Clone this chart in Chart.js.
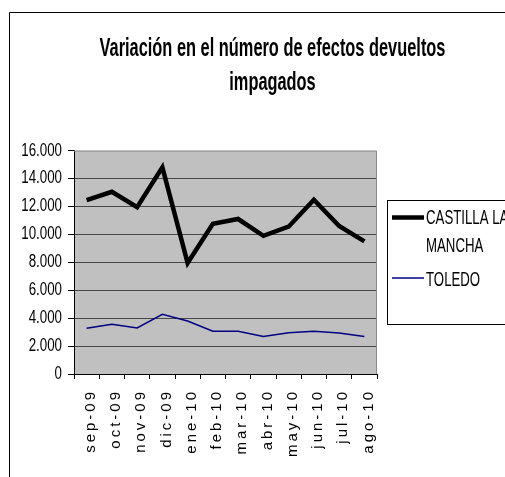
<!DOCTYPE html>
<html>
<head>
<meta charset="utf-8">
<script src="https://cdn.jsdelivr.net/npm/chart.js@4/dist/chart.umd.min.js"></script>
<style>
  html, body { margin: 0; padding: 0; background: #ffffff; }
  #wrap { position: relative; width: 505px; height: 477px; }
</style>
</head>
<body>
<div id="wrap"><canvas id="c"></canvas></div>
<script>
// ---- data ----
const months = ['sep-09','oct-09','nov-09','dic-09','ene-10','feb-10','mar-10','abr-10','may-10','jun-10','jul-10','ago-10'];
const castillaLaMancha = [12450, 13050, 11950, 14800, 7950, 10750, 11100, 9900, 10550, 12480, 10600, 9500];
const toledo = [3280, 3560, 3300, 4280, 3800, 3060, 3060, 2680, 2960, 3060, 2940, 2680];
const seriesNames = ['CASTILLA LA MANCHA', 'TOLEDO'];
const titleLines = ['Variación en el número de efectos devueltos', 'impagados'];
const yTicks = [0, 2000, 4000, 6000, 8000, 10000, 12000, 14000, 16000];

const FONT = "'Liberation Sans', Arial, sans-serif";

// The reference text is horizontally condensed: render text condensed via fillText maxWidth.
const TITLE_SQ = 0.63, YLABEL_SQ = 0.74, LEGEND_SQ = 0.63;
const origFillText = CanvasRenderingContext2D.prototype.fillText;
CanvasRenderingContext2D.prototype.fillText = function (t, x, y, mw) {
  let sq = this.__sq;
  if (sq === undefined) sq = /bold|700/.test(this.font) ? TITLE_SQ : 1;
  if (sq !== 1) {
    const w = this.measureText(t).width * sq;
    mw = (mw === undefined || mw === null) ? w : Math.min(mw, w);
  }
  if (mw === undefined || mw === null) return origFillText.call(this, t, x, y);
  return origFillText.call(this, t, x, y, mw);
};

class SpacedCategoryScale extends Chart.CategoryScale {
  drawLabels(area) {
    const ctx = this.ctx;
    ctx.save();
    ctx.letterSpacing = '3px';
    ctx.__sq = 1;
    super.drawLabels(area);
    ctx.__sq = undefined;
    ctx.restore();
  }
}
SpacedCategoryScale.id = 'spacedCategory';
SpacedCategoryScale.defaults = Chart.CategoryScale.defaults;

class CondensedLinearScale extends Chart.LinearScale {
  drawLabels(area) {
    const ctx = this.ctx;
    ctx.__sq = YLABEL_SQ;
    super.drawLabels(area);
    ctx.__sq = undefined;
  }
}
CondensedLinearScale.id = 'condensedLinear';
CondensedLinearScale.defaults = Chart.LinearScale.defaults;
Chart.register(SpacedCategoryScale, CondensedLinearScale);

function fmt(v) {
  return String(v).replace(/\B(?=(\d{3})+(?!\d))/g, '.');
}

const framePlugin = {
  id: 'framePlugin',
  beforeDraw(chart) {
    const ctx = chart.ctx, a = chart.chartArea;
    ctx.save();
    ctx.fillStyle = '#ffffff';
    ctx.fillRect(0, 0, chart.width, chart.height);
    ctx.fillStyle = '#c0c0c0';
    ctx.fillRect(a.left, a.top, a.right - a.left, a.bottom - a.top);
    ctx.restore();
  },
  beforeDatasetsDraw(chart) {
    const ctx = chart.ctx, a = chart.chartArea;
    ctx.save();
    ctx.strokeStyle = '#8a8a8a';
    ctx.lineWidth = 1;
    ctx.beginPath();
    ctx.moveTo(a.left, a.top + 0.5);
    ctx.lineTo(a.right - 0.5, a.top + 0.5);
    ctx.lineTo(a.right - 0.5, a.bottom);
    ctx.stroke();
    ctx.restore();
  },
  afterDraw(chart) {
    const ctx = chart.ctx;
    ctx.save();
    // outer chart frame
    ctx.strokeStyle = '#000000';
    ctx.lineWidth = 1;
    ctx.beginPath();
    ctx.moveTo(9.5, chart.height + 2);
    ctx.lineTo(9.5, 12.5);
    ctx.lineTo(chart.width + 2, 12.5);
    ctx.stroke();
    // legend box
    const bx = 387, by = 200, bw = 140, bh = 124;
    ctx.fillStyle = '#ffffff';
    ctx.fillRect(bx, by, bw, bh);
    ctx.strokeRect(bx + 0.5, by + 0.5, bw, bh);
    ctx.font = '21px ' + FONT;
    ctx.fillStyle = '#000000';
    ctx.textBaseline = 'alphabetic';
    ctx.textAlign = 'left';
    ctx.__sq = LEGEND_SQ;
    const rows = [{ lineY: 217.5, textY: 224 }, { lineY: 278, textY: 286 }];
    chart.data.datasets.forEach((ds, i) => {
      const r = rows[i];
      ctx.strokeStyle = ds.borderColor;
      ctx.lineWidth = ds.borderWidth;
      ctx.beginPath();
      ctx.moveTo(392, r.lineY);
      ctx.lineTo(424, r.lineY);
      ctx.stroke();
      const words = ds.label.split(' ');
      const lines = [];
      let cur = '';
      words.forEach(w => {
        const test = cur ? cur + ' ' + w : w;
        if (cur && ctx.measureText(test).width * LEGEND_SQ > 100) { lines.push(cur); cur = w; }
        else cur = test;
      });
      if (cur) lines.push(cur);
      lines.forEach((ln, k) => ctx.fillText(ln, 426, r.textY + k * 28));
    });
    ctx.__sq = undefined;
    ctx.restore();
  }
};

const chart = new Chart(document.getElementById('c'), {
  type: 'line',
  data: {
    labels: months,
    datasets: [
      {
        label: seriesNames[0],
        data: castillaLaMancha,
        borderColor: '#000000',
        backgroundColor: '#000000',
        borderWidth: 4.5,
        pointRadius: 0,
        tension: 0,
        fill: false
      },
      {
        label: seriesNames[1],
        data: toledo,
        borderColor: '#000080',
        backgroundColor: '#000080',
        borderWidth: 1.5,
        pointRadius: 0,
        tension: 0,
        fill: false
      }
    ]
  },
  options: {
    responsive: true,
    maintainAspectRatio: false,
    animation: false,
    events: [],
    layout: { padding: { left: 0, right: -40, top: 0, bottom: 0 } },
    plugins: {
      legend: { display: false },
      tooltip: { enabled: false },
      title: {
        display: true,
        text: titleLines,
        color: '#000000',
        font: { family: FONT, size: 26, weight: 'bold', lineHeight: 1.29 },
        padding: { top: 32.5, bottom: 51 }
      }
    },
    scales: {
      x: {
        type: 'spacedCategory',
        offset: true,
        grid: {
          offset: true,
          drawOnChartArea: false,
          drawTicks: true,
          tickLength: 5,
          tickColor: '#000000'
        },
        border: { display: true, color: '#000000', width: 1 },
        ticks: {
          autoSkip: false,
          minRotation: 90,
          maxRotation: 90,
          padding: 10,
          labelOffset: 4,
          color: '#000000',
          font: { family: FONT, size: 15 }
        },
        afterFit(s) { s.height = 103; }
      },
      y: {
        type: 'condensedLinear',
        min: 0,
        max: 16000,
        afterBuildTicks(s) { s.ticks = yTicks.map(v => ({ value: v })); },
        grid: {
          color: (c) => (c.tick && c.tick.value === 16000) ? 'rgba(0,0,0,0)' : '#474747',
          lineWidth: 1,
          drawTicks: true,
          tickLength: 6,
          tickColor: '#000000'
        },
        border: { display: true, color: '#000000', width: 1 },
        ticks: {
          padding: 6,
          color: '#000000',
          font: { family: FONT, size: 18 },
          callback: (v) => fmt(v)
        },
        afterFit(s) { s.width = 74; }
      },
      y2: {
        position: 'right',
        display: true,
        grid: { display: false, drawTicks: false },
        border: { display: false },
        ticks: { display: false },
        afterFit(s) { s.width = 168; }
      }
    }
  },
  plugins: [framePlugin]
});
</script>
</body>
</html>
